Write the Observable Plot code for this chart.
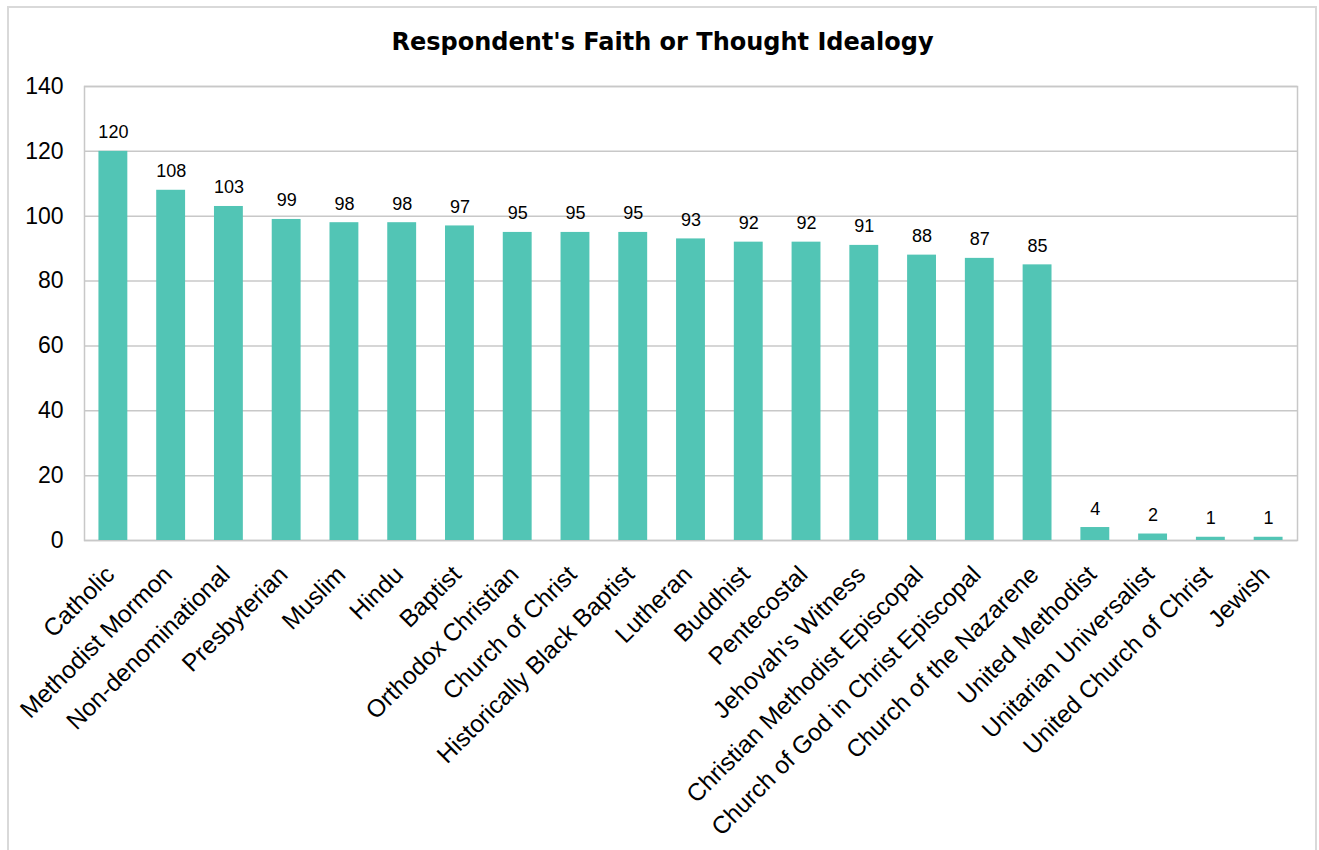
<!DOCTYPE html>
<html>
<head>
<meta charset="utf-8">
<script src="https://cdn.jsdelivr.net/npm/d3@7"></script>
<script src="https://cdn.jsdelivr.net/npm/@observablehq/plot@0.6"></script>
<style>
  body { margin: 0; background: #fff; overflow: hidden; }
  #wrap { position: relative; width: 1319px; height: 850px; }
  #frame { position: absolute; left: 7px; top: 6px; width: 1310px; height: 900px;
           border: 2px solid #d9d9d9; box-sizing: border-box; }
  #title { position: absolute; left: 0; top: 28px; width: 1325px; text-align: center;
           font: bold 24px "DejaVu Sans", sans-serif; color: #000; letter-spacing: 0px; }
  #chart { position: absolute; left: 0; top: 0; }
</style>
</head>
<body>
<div id="wrap">
  <div id="frame"></div>
  <div id="chart"></div>
  <div id="title">Respondent's Faith or Thought Idealogy</div>
</div>
<script>
// Respondent counts by faith or thought ideology
const faiths = [
  "Catholic", "Methodist Mormon", "Non-denominational", "Presbyterian", "Muslim",
  "Hindu", "Baptist", "Orthodox Christian", "Church of Christ", "Historically Black Baptist",
  "Lutheran", "Buddhist", "Pentecostal", "Jehovah's Witness", "Christian Methodist Episcopal",
  "Church of God in Christ Episcopal", "Church of the Nazarene", "United Methodist",
  "Unitarian Universalist", "United Church of Christ", "Jewish"
];
const counts = [120, 108, 103, 99, 98, 98, 97, 95, 95, 95, 93, 92, 92, 91, 88, 87, 85, 4, 2, 1, 1];
const yTicks = [0, 20, 40, 60, 80, 100, 120, 140];

const data = faiths.map((faith, i) => ({faith, count: counts[i]}));

const chart = Plot.plot({
  width: 1319,
  height: 850,
  marginLeft: 84,
  marginRight: 22,
  marginTop: 86,
  marginBottom: 310,
  style: {fontFamily: "'Liberation Sans', Arial, sans-serif", color: "#000", background: "transparent"},
  x: {domain: faiths, paddingInner: 0.5, paddingOuter: 0.25, round: false, label: null},
  y: {domain: [0, 140], label: null},
  marks: [
    Plot.gridY(yTicks, {stroke: "#c8c8c8", strokeOpacity: 1, strokeWidth: 1.5}),
    Plot.frame({stroke: "#c8c8c8", strokeWidth: 1.5}),
    Plot.barY(data, {x: "faith", y: "count", fill: "#52c5b5"}),
    Plot.text(data, {x: "faith", y: "count", text: d => String(d.count),
                     dy: -13, lineAnchor: "bottom", fontSize: 18, fill: "#000"}),
    Plot.axisY(yTicks, {tickSize: 0, tickPadding: 21, fontSize: 23, label: null}),
    Plot.axisX({tickSize: 0, tickPadding: 30, dx: -3, tickRotate: -45, fontSize: 24.5, label: null})
  ]
});
document.getElementById("chart").appendChild(chart);
</script>
</body>
</html>
